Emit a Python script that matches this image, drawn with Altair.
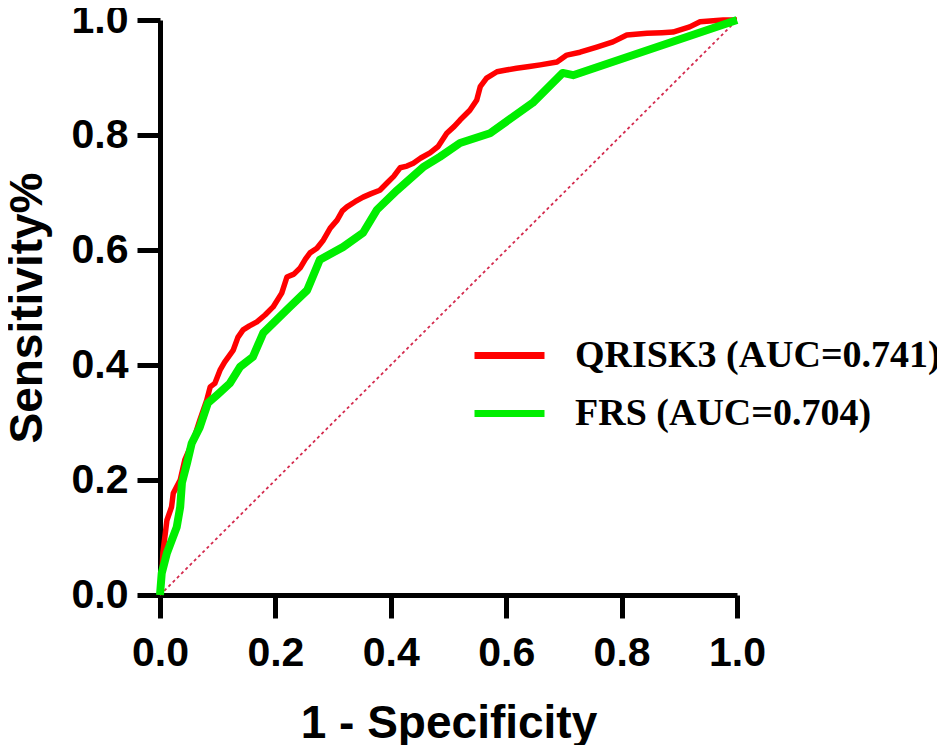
import altair as alt
import pandas as pd

# QRISK3 ROC curve (1 - specificity, sensitivity)
qrisk_x = [0.0, 0.003, 0.005, 0.012, 0.020, 0.023, 0.035, 0.043, 0.058, 0.069, 0.081, 0.087,
           0.095, 0.104, 0.112, 0.127, 0.135, 0.144, 0.155, 0.168, 0.182, 0.196, 0.211, 0.220,
           0.232, 0.243, 0.252, 0.260, 0.272, 0.283, 0.295, 0.307, 0.316, 0.324, 0.338, 0.352,
           0.366, 0.381, 0.393, 0.405, 0.416, 0.428, 0.439, 0.452, 0.468, 0.482, 0.497, 0.510,
           0.520, 0.537, 0.549, 0.555, 0.566, 0.584, 0.600, 0.618, 0.640, 0.659, 0.688, 0.705,
           0.728, 0.757, 0.785, 0.809, 0.844, 0.870, 0.889, 0.918, 0.936, 0.976, 1.0]
qrisk_y = [0.0, 0.026, 0.073, 0.130, 0.153, 0.177, 0.200, 0.235, 0.270, 0.304, 0.339, 0.362,
           0.368, 0.391, 0.405, 0.426, 0.448, 0.461, 0.468, 0.475, 0.487, 0.501, 0.525, 0.553,
           0.558, 0.569, 0.584, 0.595, 0.603, 0.617, 0.638, 0.652, 0.668, 0.675, 0.684, 0.692,
           0.698, 0.704, 0.716, 0.728, 0.743, 0.746, 0.751, 0.760, 0.769, 0.780, 0.803, 0.815,
           0.826, 0.843, 0.861, 0.884, 0.899, 0.910, 0.913, 0.916, 0.919, 0.922, 0.927, 0.939,
           0.944, 0.953, 0.962, 0.974, 0.977, 0.978, 0.979, 0.988, 0.997, 1.0, 1.0]

# FRS ROC curve
frs_x = [0.0, 0.003, 0.012, 0.029, 0.035, 0.038, 0.047, 0.055, 0.069, 0.083, 0.099, 0.121,
         0.139, 0.161, 0.179, 0.225, 0.255, 0.277, 0.317, 0.352, 0.376, 0.411, 0.456, 0.485,
         0.520, 0.572, 0.646, 0.698, 0.716, 1.0]
frs_y = [0.0, 0.038, 0.073, 0.118, 0.153, 0.195, 0.230, 0.264, 0.292, 0.334, 0.348, 0.368,
         0.397, 0.414, 0.456, 0.501, 0.530, 0.583, 0.605, 0.630, 0.670, 0.704, 0.744, 0.762,
         0.786, 0.803, 0.856, 0.908, 0.904, 1.0]

diag_x = [0.0, 1.0]
diag_y = [0.0, 1.0]

series_names = ["QRISK3 (AUC=0.741)", "FRS (AUC=0.704)"]
series_colors = ["#ff0000", "#00ee00"]
ticks = [0.0, 0.2, 0.4, 0.6, 0.8, 1.0]

df_q = pd.DataFrame({"x": qrisk_x, "y": qrisk_y, "model": series_names[0], "i": range(len(qrisk_x))})
df_f = pd.DataFrame({"x": frs_x, "y": frs_y, "model": series_names[1], "i": range(len(frs_x))})
df_d = pd.DataFrame({"x": diag_x, "y": diag_y})

xscale = alt.Scale(domain=[0, 1], nice=False, zero=False)
yscale = alt.Scale(domain=[0, 1], nice=False, zero=False)

xenc = alt.X("x:Q", scale=xscale,
             axis=alt.Axis(title="1 - Specificity", values=ticks, format=".1f",
                           labelFlush=False, labelOverlap=False))
yenc = alt.Y("y:Q", scale=yscale,
             axis=alt.Axis(title="Sensitivity%", values=ticks, format=".1f",
                           labelFlush=False, labelOverlap=False))

color = alt.Color("model:N",
                  scale=alt.Scale(domain=series_names, range=series_colors),
                  legend=alt.Legend(title=None, orient="none", legendX=311, legendY=297,
                                    symbolType="stroke", symbolSize=4900, symbolStrokeWidth=7,
                                    labelFont="Liberation Serif", labelFontWeight="bold",
                                    labelFontSize=38, labelColor="black", labelLimit=600,
                                    labelOffset=27, rowPadding=-6))

diag = alt.Chart(df_d).mark_line(color="#d42a4e", strokeWidth=1.8, strokeDash=[3, 3]).encode(
    x=xenc, y=yenc)

red = alt.Chart(df_q).mark_line(strokeWidth=5.5, strokeJoin="round").encode(
    x=xenc, y=yenc, color=color, order="i:Q")

green = alt.Chart(df_f).mark_line(strokeWidth=8, strokeJoin="round").encode(
    x=xenc, y=yenc, color=color, order="i:Q")

chart = alt.layer(diag, red, green).properties(
    width=577, height=575,
    autosize=alt.AutoSizeParams(type="none"),
    padding={"left": 152, "top": 12, "right": 200, "bottom": 150},
).configure_view(stroke=None).configure_axis(
    grid=False,
    domainColor="black", domainWidth=5,
    tickColor="black", tickWidth=5, tickSize=23,
    labelFont="Liberation Sans", labelFontWeight="bold", labelFontSize=41, labelColor="black",
    titleFont="Liberation Sans", titleFontWeight="bold", titleFontSize=46, titleColor="black",
).configure_axisX(labelPadding=15, titlePadding=28).configure_axisY(labelPadding=9, titlePadding=20)

chart.save("out.html", embed_options={"renderer": "svg", "actions": False})
